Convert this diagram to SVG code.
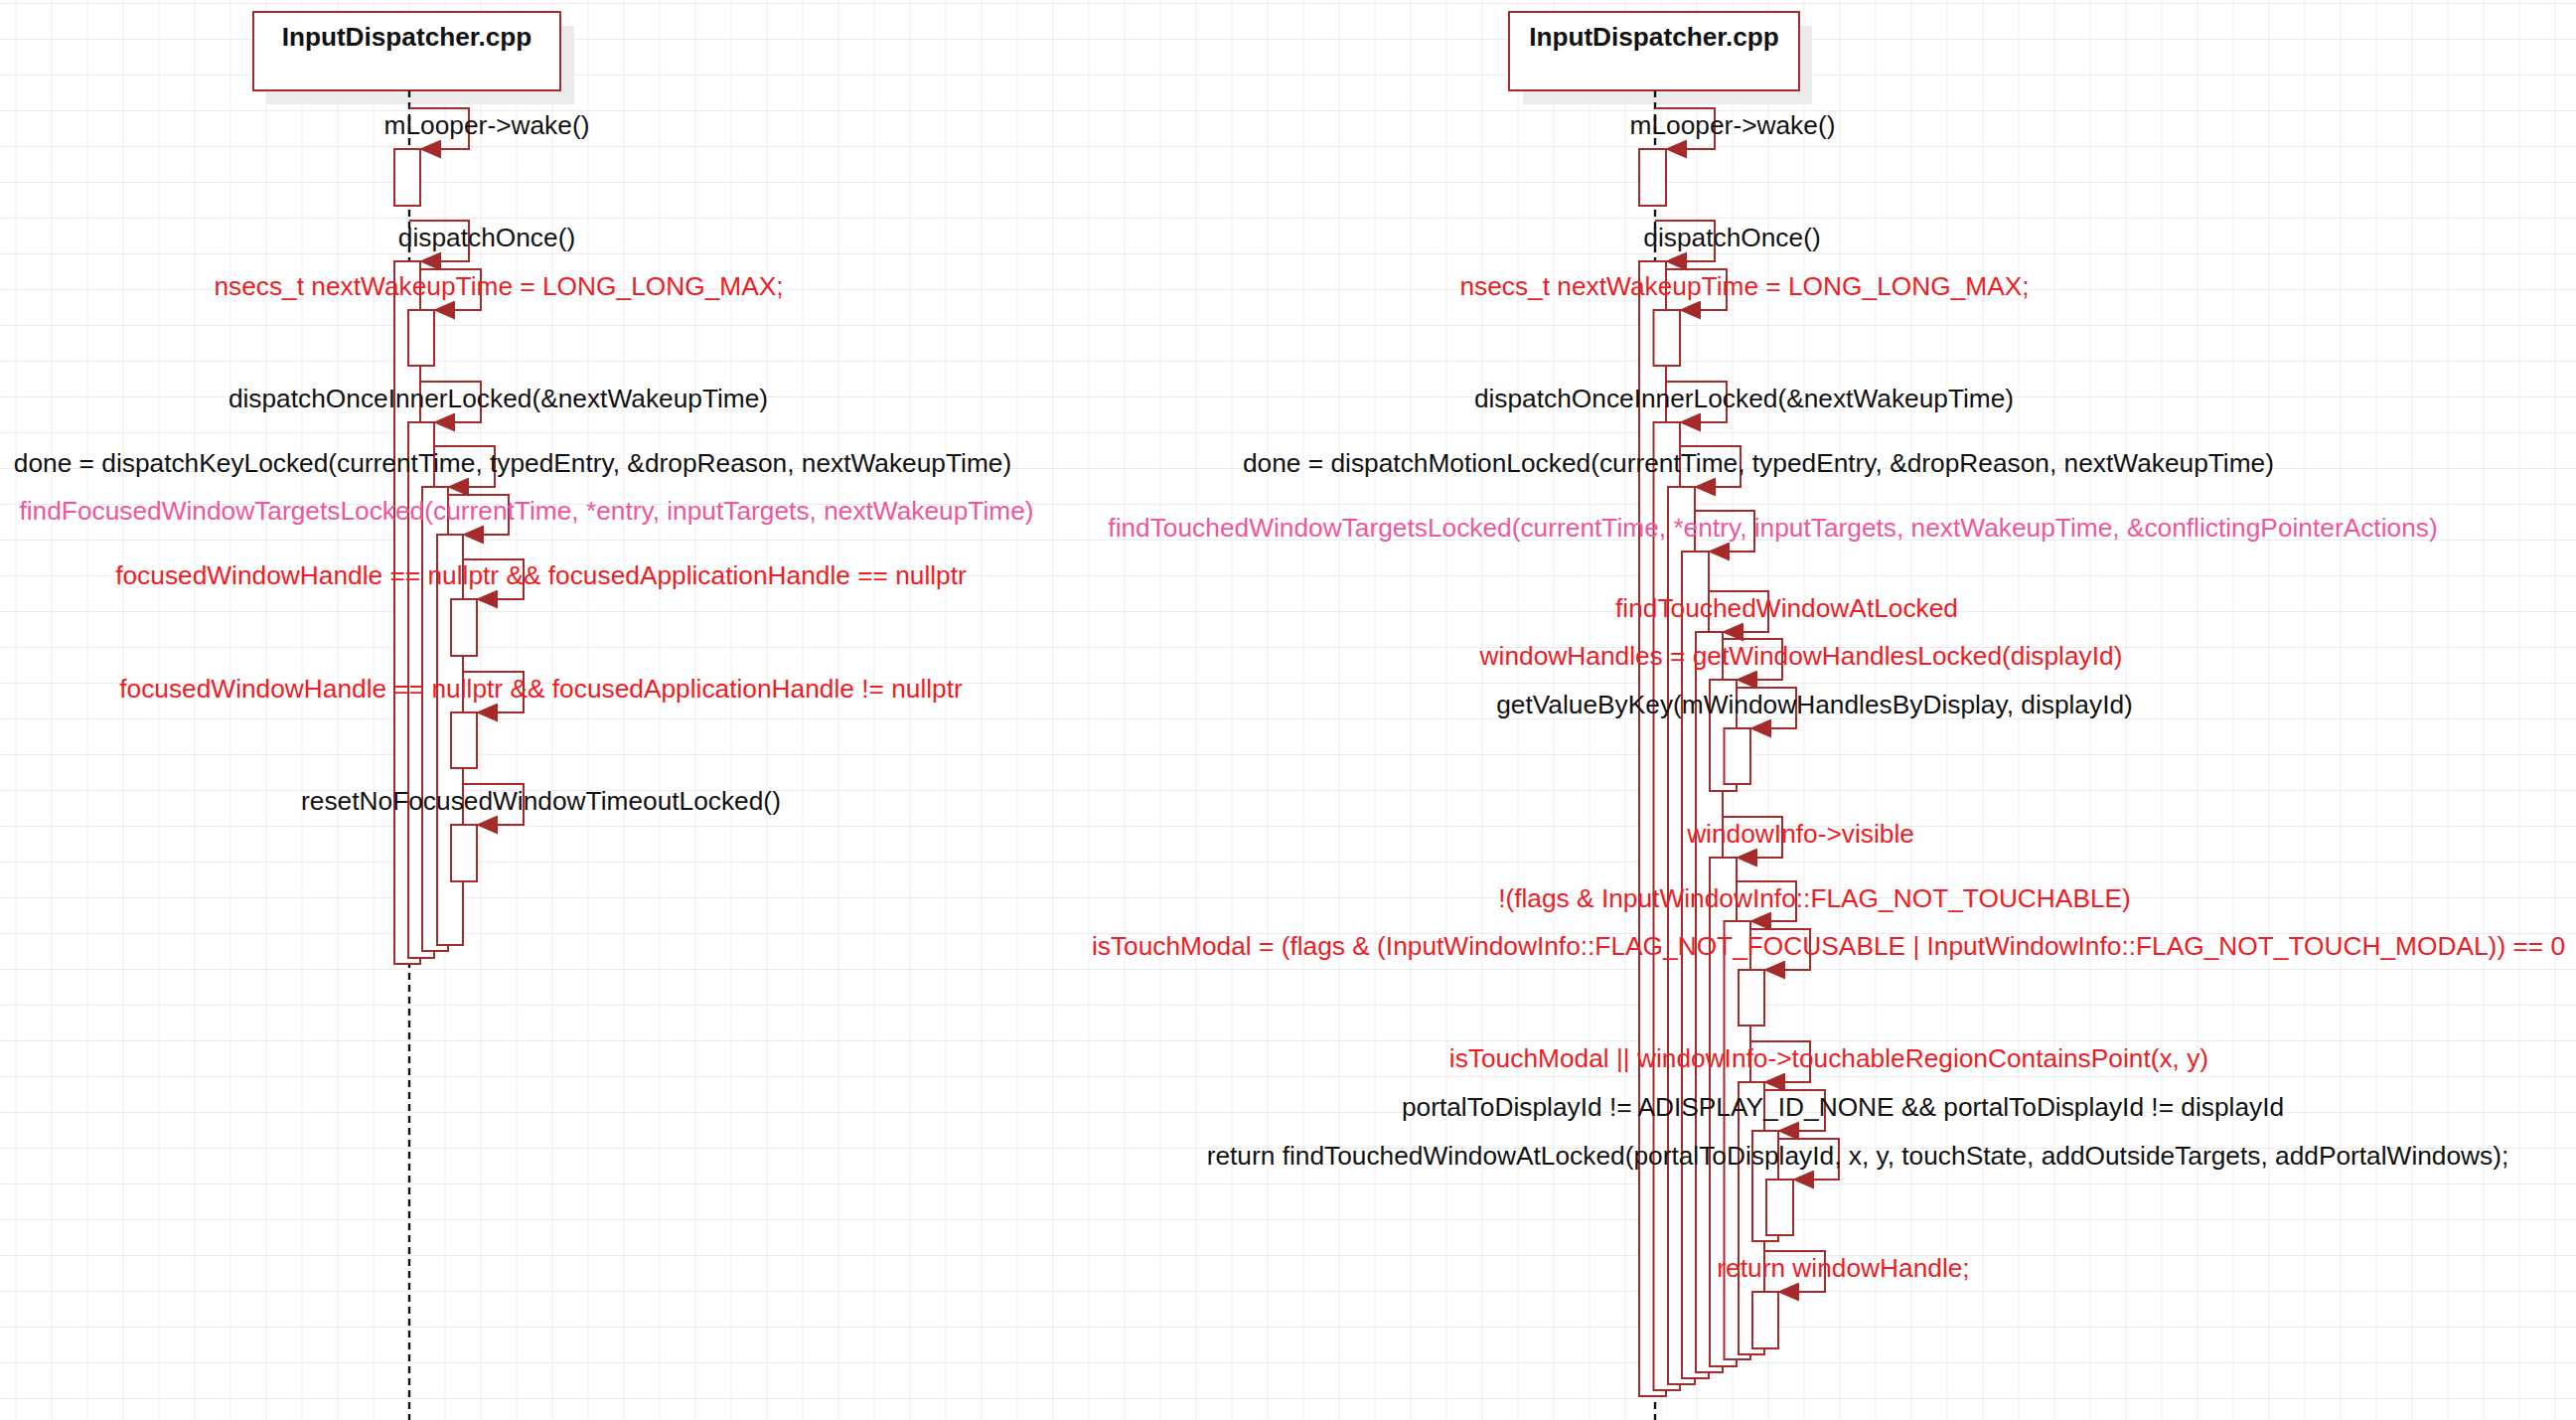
<svg xmlns="http://www.w3.org/2000/svg" width="2593" height="1429" viewBox="0 0 2593 1429">
<style>
.hdr{fill:#fff;stroke:#a52a2a;stroke-width:2}
.shd{fill:#ebebeb}
.title{font-family:"Liberation Sans",Arial,sans-serif;font-size:26.2px;font-weight:bold;fill:#111;text-anchor:middle}
.life{stroke:#111;stroke-width:2.4;stroke-dasharray:7 5;fill:none}
.act{fill:#fff;stroke:#a52a2a;stroke-width:2}
.msg{fill:none;stroke:#a52a2a;stroke-width:2;marker-end:url(#ah)}
.lbl{font-family:"Liberation Sans",Arial,sans-serif;font-size:26.3px;text-anchor:middle}
.k{fill:#111}
.r{fill:#ee1c24}
.p{fill:#f0569c}
</style>
<defs>
<pattern id="grid" x="15.5" y="3" width="36" height="36" patternUnits="userSpaceOnUse">
<path d="M0.5 0V36M0 0.5H36" stroke="#ececec" stroke-width="1" fill="none"/>
</pattern>
<marker id="ah" viewBox="0 0 22 19" refX="21" refY="9.5" markerWidth="22" markerHeight="19" markerUnits="userSpaceOnUse" orient="auto">
<path d="M0,0L22,9.5L0,19Z" fill="#a52a2a"/>
</marker>
</defs>
<rect width="2593" height="1429" fill="#fff"/>
<rect width="2593" height="1429" fill="url(#grid)"/>

<g id="participant-left">
<rect class="shd" x="268" y="26" width="310" height="79"/>
<rect class="hdr" x="255" y="12" width="309" height="79"/>
<text class="title" x="409.5" y="46">InputDispatcher.cpp</text>
<line class="life" x1="412" y1="91" x2="412" y2="1429"/>
</g>
<g id="participant-right">
<rect class="shd" x="1533" y="26" width="291" height="79"/>
<rect class="hdr" x="1519" y="12" width="292" height="79"/>
<text class="title" x="1665" y="46">InputDispatcher.cpp</text>
<line class="life" x1="1666" y1="91" x2="1666" y2="1429"/>
</g>

<g id="act-L0"><rect class="act" x="397" y="150" width="26" height="57"/></g>
<g id="act-L1"><rect class="act" x="397" y="263" width="26" height="707"/></g>
<g id="act-L2"><rect class="act" x="411" y="312" width="26" height="56"/></g>
<g id="act-L3"><rect class="act" x="411" y="425" width="26" height="539"/></g>
<g id="act-L4"><rect class="act" x="425" y="490" width="26" height="467"/></g>
<g id="act-L5"><rect class="act" x="440" y="538" width="26" height="413"/></g>
<g id="act-L6"><rect class="act" x="454" y="603" width="26" height="57"/></g>
<g id="act-L7"><rect class="act" x="454" y="717" width="26" height="56"/></g>
<g id="act-L8"><rect class="act" x="454" y="830" width="26" height="57"/></g>

<g id="act-R0"><rect class="act" x="1650" y="150" width="27" height="57"/></g>
<g id="act-R1"><rect class="act" x="1650" y="263" width="27" height="1142"/></g>
<g id="act-R2"><rect class="act" x="1664.5" y="312" width="26.5" height="56"/></g>
<g id="act-R3"><rect class="act" x="1664.5" y="425" width="26.5" height="974"/></g>
<g id="act-R4"><rect class="act" x="1679" y="490" width="27" height="903"/></g>
<g id="act-R5"><rect class="act" x="1693" y="555" width="27" height="832"/></g>
<g id="act-R6"><rect class="act" x="1707" y="636" width="27" height="745"/></g>
<g id="act-R7"><rect class="act" x="1721" y="684" width="27" height="112"/></g>
<g id="act-R8"><rect class="act" x="1735.5" y="733" width="26.5" height="56"/></g>
<g id="act-R9"><rect class="act" x="1721" y="863" width="27" height="512"/></g>
<g id="act-R10"><rect class="act" x="1735.5" y="927" width="26.5" height="441"/></g>
<g id="act-R11"><rect class="act" x="1750" y="976" width="26" height="56"/></g>
<g id="act-R12"><rect class="act" x="1750" y="1089" width="26" height="274"/></g>
<g id="act-R13"><rect class="act" x="1764" y="1138" width="26" height="111"/></g>
<g id="act-R14"><rect class="act" x="1778" y="1187" width="27" height="56"/></g>
<g id="act-R15"><rect class="act" x="1764" y="1300" width="26" height="57"/></g>

<g id="connectors">
<path class="msg" d="M412 109H472V150H423"/>
<path class="msg" d="M412 222H472V263H423"/>
<path class="msg" d="M423 271H484V312H437"/>
<path class="msg" d="M423 384H484V425H437"/>
<path class="msg" d="M437 449H498V490H451"/>
<path class="msg" d="M451 498H512V538H466"/>
<path class="msg" d="M466 563H527V603H480"/>
<path class="msg" d="M466 676H527V717H480"/>
<path class="msg" d="M466 789H527V830H480"/>

<path class="msg" d="M1666 109H1726V150H1677"/>
<path class="msg" d="M1666 222H1726V263H1677"/>
<path class="msg" d="M1677 271H1738V312H1691"/>
<path class="msg" d="M1677 384H1738V425H1691"/>
<path class="msg" d="M1691 449H1752V490H1706"/>
<path class="msg" d="M1706 514H1766V555H1720"/>
<path class="msg" d="M1720 595H1780V636H1734"/>
<path class="msg" d="M1734 643H1794V684H1748"/>
<path class="msg" d="M1748 692H1808V733H1762"/>
<path class="msg" d="M1734 822H1794V863H1748"/>
<path class="msg" d="M1748 887H1808V927H1762"/>
<path class="msg" d="M1762 935H1822V976H1776"/>
<path class="msg" d="M1762 1048H1822V1089H1776"/>
<path class="msg" d="M1776 1097H1837V1138H1790"/>
<path class="msg" d="M1790 1146H1851V1187H1805"/>
<path class="msg" d="M1776 1259H1837V1300H1790"/>
</g>

<g id="labels">
<text class="lbl k" x="490" y="135">mLooper-&gt;wake()</text>
<text class="lbl k" x="490" y="248">dispatchOnce()</text>
<text class="lbl r" x="502" y="297">nsecs_t nextWakeupTime = LONG_LONG_MAX;</text>
<text class="lbl k" x="501.5" y="410">dispatchOnceInnerLocked(&amp;nextWakeupTime)</text>
<text class="lbl k" x="516" y="475">done = dispatchKeyLocked(currentTime, typedEntry, &amp;dropReason, nextWakeupTime)</text>
<text class="lbl p" x="530" y="523">findFocusedWindowTargetsLocked(currentTime, *entry, inputTargets, nextWakeupTime)</text>
<text class="lbl r" x="544.5" y="588">focusedWindowHandle == nullptr &amp;&amp; focusedApplicationHandle == nullptr</text>
<text class="lbl r" x="544.5" y="702">focusedWindowHandle == nullptr &amp;&amp; focusedApplicationHandle != nullptr</text>
<text class="lbl k" x="544.5" y="815">resetNoFocusedWindowTimeoutLocked()</text>

<text class="lbl k" x="1744" y="135">mLooper-&gt;wake()</text>
<text class="lbl k" x="1743.5" y="248">dispatchOnce()</text>
<text class="lbl r" x="1756" y="297">nsecs_t nextWakeupTime = LONG_LONG_MAX;</text>
<text class="lbl k" x="1755.5" y="410">dispatchOnceInnerLocked(&amp;nextWakeupTime)</text>
<text class="lbl k" x="1770" y="475">done = dispatchMotionLocked(currentTime, typedEntry, &amp;dropReason, nextWakeupTime)</text>
<text class="lbl p" x="1784.5" y="540">findTouchedWindowTargetsLocked(currentTime, *entry, inputTargets, nextWakeupTime, &amp;conflictingPointerActions)</text>
<text class="lbl r" x="1798.5" y="621">findTouchedWindowAtLocked</text>
<text class="lbl r" x="1813" y="669">windowHandles = getWindowHandlesLocked(displayId)</text>
<text class="lbl k" x="1826.5" y="718">getValueByKey(mWindowHandlesByDisplay, displayId)</text>
<text class="lbl r" x="1812.5" y="848">windowInfo-&gt;visible</text>
<text class="lbl r" x="1826.5" y="913">!(flags &amp; InputWindowInfo::FLAG_NOT_TOUCHABLE)</text>
<text class="lbl r" x="1840.5" y="961">isTouchModal = (flags &amp; (InputWindowInfo::FLAG_NOT_FOCUSABLE | InputWindowInfo::FLAG_NOT_TOUCH_MODAL)) == 0</text>
<text class="lbl r" x="1841" y="1074">isTouchModal || windowInfo-&gt;touchableRegionContainsPoint(x, y)</text>
<text class="lbl k" x="1855" y="1123">portalToDisplayId != ADISPLAY_ID_NONE &amp;&amp; portalToDisplayId != displayId</text>
<text class="lbl k" x="1870" y="1172">return findTouchedWindowAtLocked(portalToDisplayId, x, y, touchState, addOutsideTargets, addPortalWindows);</text>
<text class="lbl r" x="1855.5" y="1285">return windowHandle;</text>
</g>
</svg>
